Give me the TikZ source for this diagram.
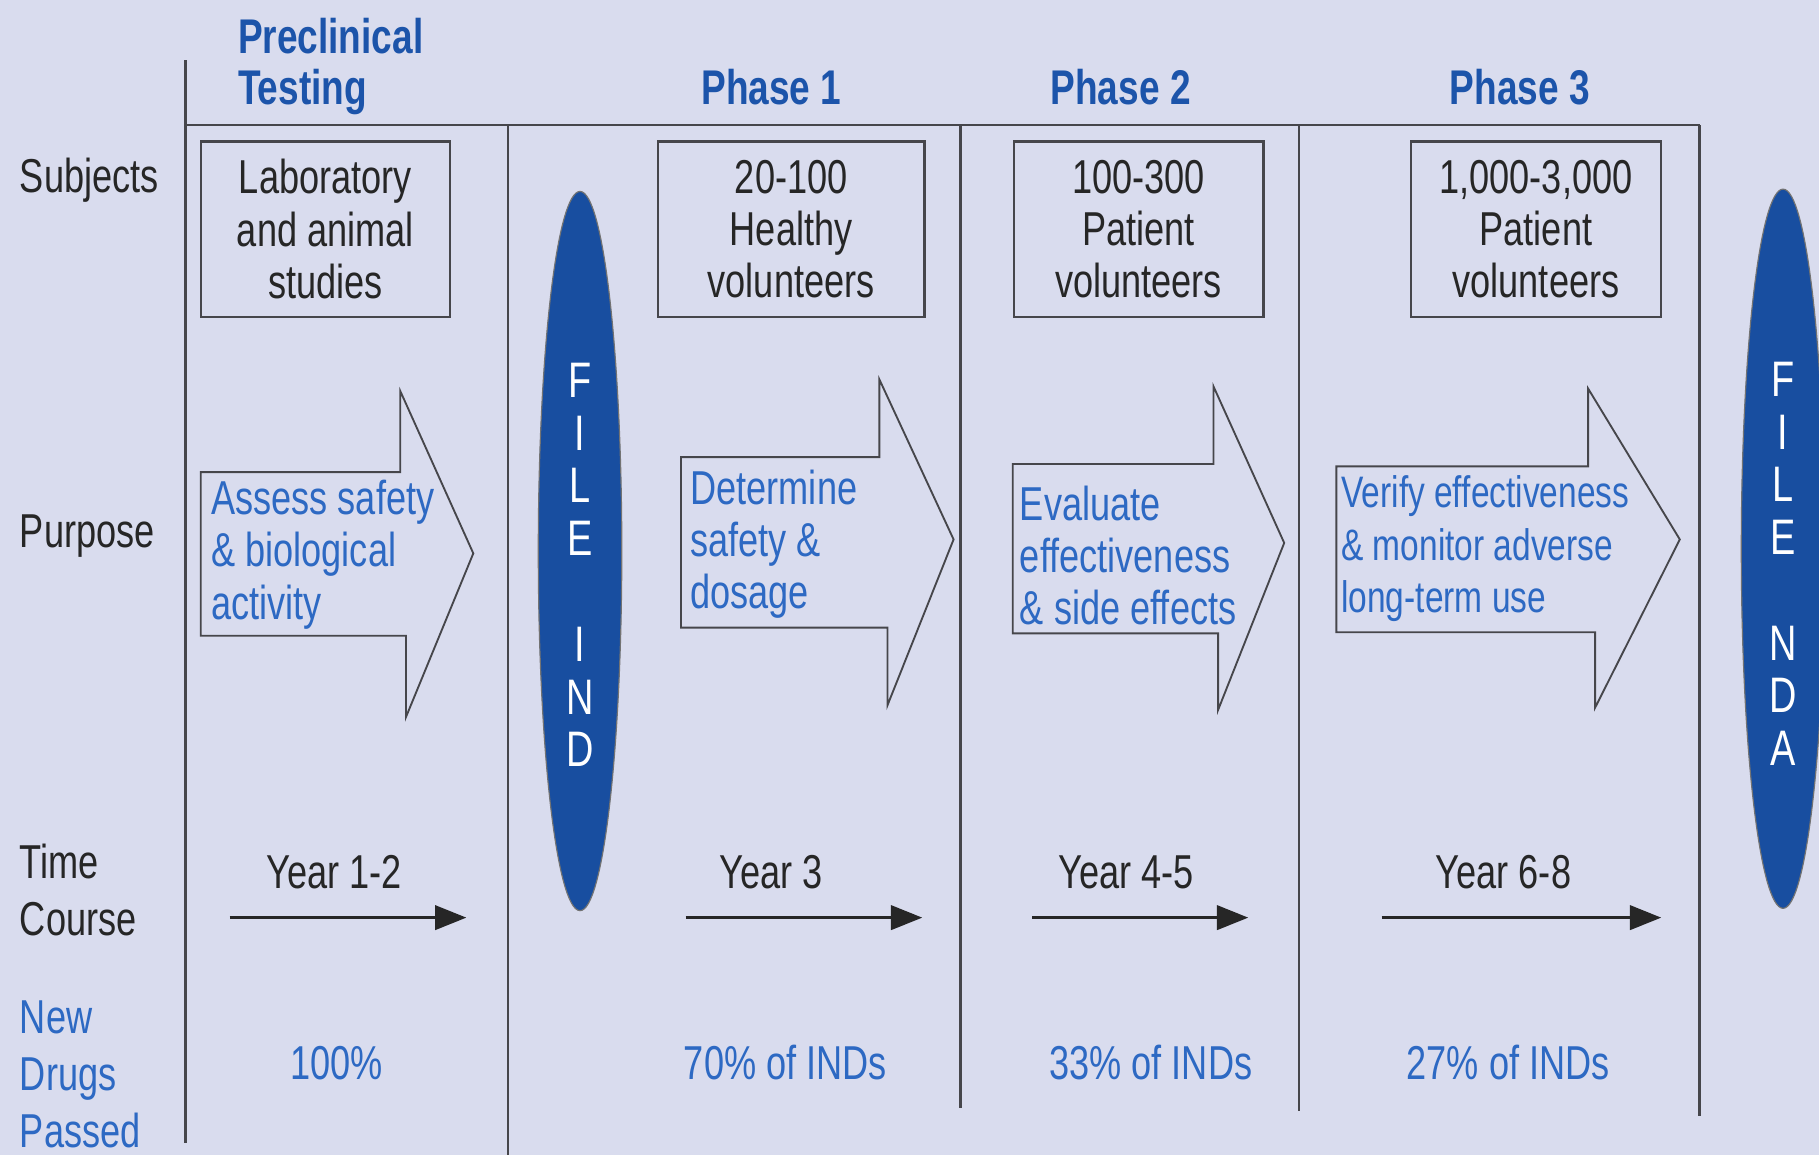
\documentclass[tikz,border=0pt]{standalone}
\usepackage{fontspec}
\setmainfont{Liberation Sans}[FakeStretch=0.76]
\usetikzlibrary{shapes.geometric,arrows.meta}

\definecolor{bgcol}{RGB}{217,220,238}
\definecolor{titleblue}{RGB}{28,84,170}
\definecolor{textblue}{RGB}{45,105,195}
\definecolor{fileblue}{RGB}{24,78,160}
\definecolor{linegray}{RGB}{70,70,75}

\begin{document}
\begin{tikzpicture}[x=1pt,y=-1pt,
    every node/.style={inner sep=0pt,font=\fontsize{41}{45}\selectfont},
    gridline/.style={linegray,line width=2pt},
    phasetitle/.style={text=titleblue,font=\fontsize{42}{44}\selectfont\bfseries},
    rowlabel/.style={anchor=west,align=left,text=black!85,font=\fontsize{41}{49}\selectfont},
    subjbox/.style={draw=linegray,line width=2pt,align=center,minimum width=215pt,minimum height=151pt,text=black!85},
    blockarrow/.style={draw=linegray,line width=1.6pt},
    purpose/.style={anchor=west,align=left,text=textblue},
    timearrow/.style={line width=2.5pt,black!85,-{Triangle[length=27pt,width=21pt]}},
    filenode/.style={ellipse,fill=fileblue,draw=black!55,line width=1pt,minimum width=72pt,minimum height=620pt},
    filetext/.style={text=white,align=center,font=\fontsize{43}{45.5}\selectfont}]

    \useasboundingbox (0,0) rectangle (1568,996);
    \clip (0,0) rectangle (1568,996);
    \fill[bgcol] (0,0) rectangle (1568,996);

    % table frame
    \draw[gridline] (160,52) -- (160,985);
    \draw[gridline] (160,108) -- (1465,108);
    \foreach \x/\yend in {438/996,828/955,1120/958,1465/962}
        \draw[gridline] (\x,108) -- (\x,\yend);

    % column titles
    \node[phasetitle,anchor=west,align=left] (preclin) at (205,57) {Preclinical\\Testing};
    \node[phasetitle] (phase1) at (665,75) {Phase 1};
    \node[phasetitle] (phase2) at (966,75) {Phase 2};
    \node[phasetitle] (phase3) at (1310,75) {Phase 3};

    % row labels
    \node[rowlabel] (subjects) at (17,155) {Subjects};
    \node[rowlabel] (purpose) at (17,462) {Purpose};
    \node[rowlabel] (timecourse) at (17,767) {Time\\Course};
    \node[rowlabel,text=textblue] (passed) at (17,926) {New\\Drugs\\Passed};

    % subjects
    \node[subjbox] (sub1) at (280.5,197.5) {Laboratory\\and animal\\studies};
    \node[subjbox,minimum width=230pt] (sub2) at (682,197.5) {20-100\\Healthy\\volunteers};
    \node[subjbox] (sub3) at (981.5,197.5) {100-300\\Patient\\volunteers};
    \node[subjbox,minimum width=216pt] (sub4) at (1324,197.5) {1,000-3,000\\Patient\\volunteers};

    % purpose arrows
    \draw[blockarrow] (173,407) -- (345,407) -- (345,337) -- (408,477) -- (350,618) -- (350,548) -- (173,548) -- cycle;
    \draw[blockarrow] (587,394) -- (758,394) -- (758,327) -- (822,465) -- (765,608) -- (765,541) -- (587,541) -- cycle;
    \draw[blockarrow] (873,400) -- (1046,400) -- (1046,333) -- (1107,468) -- (1050,612) -- (1050,546) -- (873,546) -- cycle;
    \draw[blockarrow] (1152,402) -- (1369,402) -- (1369,335) -- (1448,465) -- (1375,610) -- (1375,545) -- (1152,545) -- cycle;
    \node[purpose] (purp1) at (182,478) {Assess safety\\\& biological\\activity};
    \node[purpose] (purp2) at (595,469) {Determine\\safety \&\\dosage};
    \node[purpose] (purp3) at (879,479) {Evaluate\\effectiveness\\\& side effects};
    \node[purpose,font=\fontsize{38}{45}\selectfont] (purp4) at (1156,473) {Verify effectiveness\\\& monitor adverse\\long-term use};

    % time course and pass rates
    \foreach \n/\xa/\xb/\xl/\yr/\xp/\pc in {1/198/402/288/Year 1-2/290/100\%,
        2/591/795/665/Year 3/677/70\% of INDs,
        3/890/1076/971/Year 4-5/992/33\% of INDs,
        4/1191/1432/1296/Year 6-8/1300/27\% of INDs}
    {
        \coordinate (ts\n) at (\xa,791);
        \coordinate (te\n) at (\xb,791);
        \draw[timearrow] (ts\n) -- (te\n);
        \node[text=black!85] (year\n) at (\xl,752) {\yr};
        \node[text=textblue] (pass\n) at (\xp,916) {\pc};
    }

    % filings
    \node[filenode] (ind) at (500,475) {};
    \node[filetext] (indtext) at (500,487) {F\\I\\L\\E\\[45.5pt]I\\N\\D};
    \node[filenode] (nda) at (1537,473) {};
    \node[filetext] (ndatext) at (1537,486) {F\\I\\L\\E\\[45.5pt]N\\D\\A};
\end{tikzpicture}
\end{document}
